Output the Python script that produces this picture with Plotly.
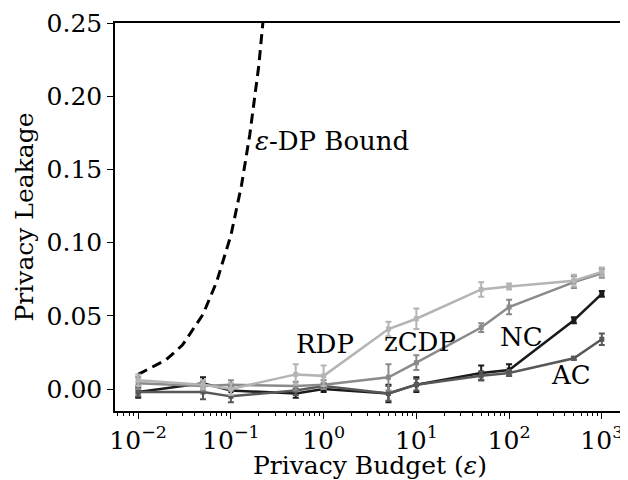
import math
import plotly.graph_objects as go

eps = [0.01, 0.05, 0.1, 0.5, 1, 5, 10, 50, 100, 500, 1000]

rdp = [0.006, 0.003, 0.000, 0.010, 0.009, 0.041, 0.048, 0.068, 0.070, 0.074, 0.080]
rdp_err = [0.004, 0.003, 0.004, 0.007, 0.007, 0.005, 0.007, 0.005, 0.002, 0.004, 0.003]
zcdp = [0.004, 0.002, 0.003, 0.002, 0.003, 0.008, 0.018, 0.042, 0.056, 0.073, 0.079]
zcdp_err = [0.004, 0.003, 0.003, 0.003, 0.003, 0.009, 0.005, 0.003, 0.005, 0.004, 0.003]
nc = [-0.002, 0.004, -0.001, -0.003, 0.000, -0.003, 0.003, 0.011, 0.013, 0.047, 0.065]
nc_err = [0.004, 0.004, 0.003, 0.003, 0.002, 0.006, 0.005, 0.005, 0.004, 0.002, 0.002]
ac = [-0.002, -0.002, -0.005, -0.001, 0.002, -0.003, 0.003, 0.009, 0.011, 0.021, 0.034]
ac_err = [0.003, 0.005, 0.004, 0.003, 0.002, 0.005, 0.004, 0.003, 0.002, 0.001, 0.004]

bound_eps = [0.01, 0.02, 0.03, 0.05, 0.07, 0.1, 0.13, 0.16, 0.2, 0.23, 0.26]
bound_val = [0.010, 0.020, 0.030, 0.051, 0.073, 0.105, 0.139, 0.174, 0.221, 0.259, 0.297]

xtick_vals = [0.01, 0.1, 1, 10, 100, 1000]
xtick_text = ["10<sup>−2</sup>", "10<sup>−1</sup>", "10<sup>0</sup>",
              "10<sup>1</sup>", "10<sup>2</sup>", "10<sup>3</sup>"]
ytick_vals = [0.0, 0.05, 0.10, 0.15, 0.20, 0.25]
ytick_text = ["0.00", "0.05", "0.10", "0.15", "0.20", "0.25"]

series = [
    ("NC", nc, nc_err, "#1a1a1a"),
    ("AC", ac, ac_err, "#585858"),
    ("zCDP", zcdp, zcdp_err, "#8a8a8a"),
    ("RDP", rdp, rdp_err, "#b4b4b4"),
]

labels = [
    ("RDP", 1.03, 0.0307),
    ("zCDP", 10.9, 0.032),
    ("NC", 135, 0.0354),
    ("AC", 470, 0.0095),
]
bound_label = ("<i>ε</i>-DP Bound", 0.175, 0.1696)

FONT = "DejaVu Serif"
TICK_SIZE = 25
ANN_SIZE = 26

fig = go.Figure()
fig.add_trace(go.Scatter(x=bound_eps, y=bound_val, mode="lines",
                         line=dict(color="black", width=3, dash="10px,6px"),
                         showlegend=False))
for name, ys, es, col in series:
    fig.add_trace(go.Scatter(
        x=eps, y=ys, mode="lines+markers", name=name,
        line=dict(color=col, width=2.5),
        marker=dict(symbol="square", size=5, color=col),
        error_y=dict(type="data", array=es, visible=True, color=col,
                     thickness=2, width=3),
        showlegend=False))

for txt, x, y in labels:
    fig.add_annotation(x=math.log10(x), y=y, xref="x", yref="y", text=txt,
                       showarrow=False,
                       font=dict(family=FONT, size=ANN_SIZE, color="black"),
                       xanchor="center", yanchor="middle")
fig.add_annotation(x=math.log10(bound_label[1]), y=bound_label[2], xref="x", yref="y",
                   text=bound_label[0], showarrow=False,
                   font=dict(family=FONT, size=ANN_SIZE, color="black"),
                   xanchor="left", yanchor="middle")

minor_vals = [m * 10 ** k for k in range(-3, 4) for m in range(2, 10)]

fig.update_layout(
    width=620, height=472,
    margin=dict(l=107, r=1, t=15, b=68),
    plot_bgcolor="white", paper_bgcolor="white",
    font=dict(family=FONT, size=TICK_SIZE, color="black"),
    xaxis=dict(type="log", range=[-2.25, 3.25],
               tickmode="array", tickvals=xtick_vals, ticktext=xtick_text,
               ticks="outside", ticklen=6, tickwidth=1.2, tickcolor="black",
               showline=True, linecolor="black", linewidth=1.5, mirror=True,
               showgrid=False, zeroline=False,
               minor=dict(tickmode="array", tickvals=minor_vals, ticks="outside",
                          ticklen=3, tickwidth=1, tickcolor="black", showgrid=False),
               title=dict(text="Privacy Budget (<i>ε</i>)", standoff=7,
                          font=dict(family=FONT, size=TICK_SIZE))),
    yaxis=dict(range=[-0.015, 0.25],
               tickmode="array", tickvals=ytick_vals, ticktext=ytick_text,
               ticks="outside", ticklen=6, tickwidth=1.2, tickcolor="black",
               showline=True, linecolor="black", linewidth=1.5, mirror=True,
               showgrid=False, zeroline=False,
               title=dict(text="Privacy Leakage", standoff=6,
                          font=dict(family=FONT, size=TICK_SIZE))),
)

fig.write_html("out.html")
